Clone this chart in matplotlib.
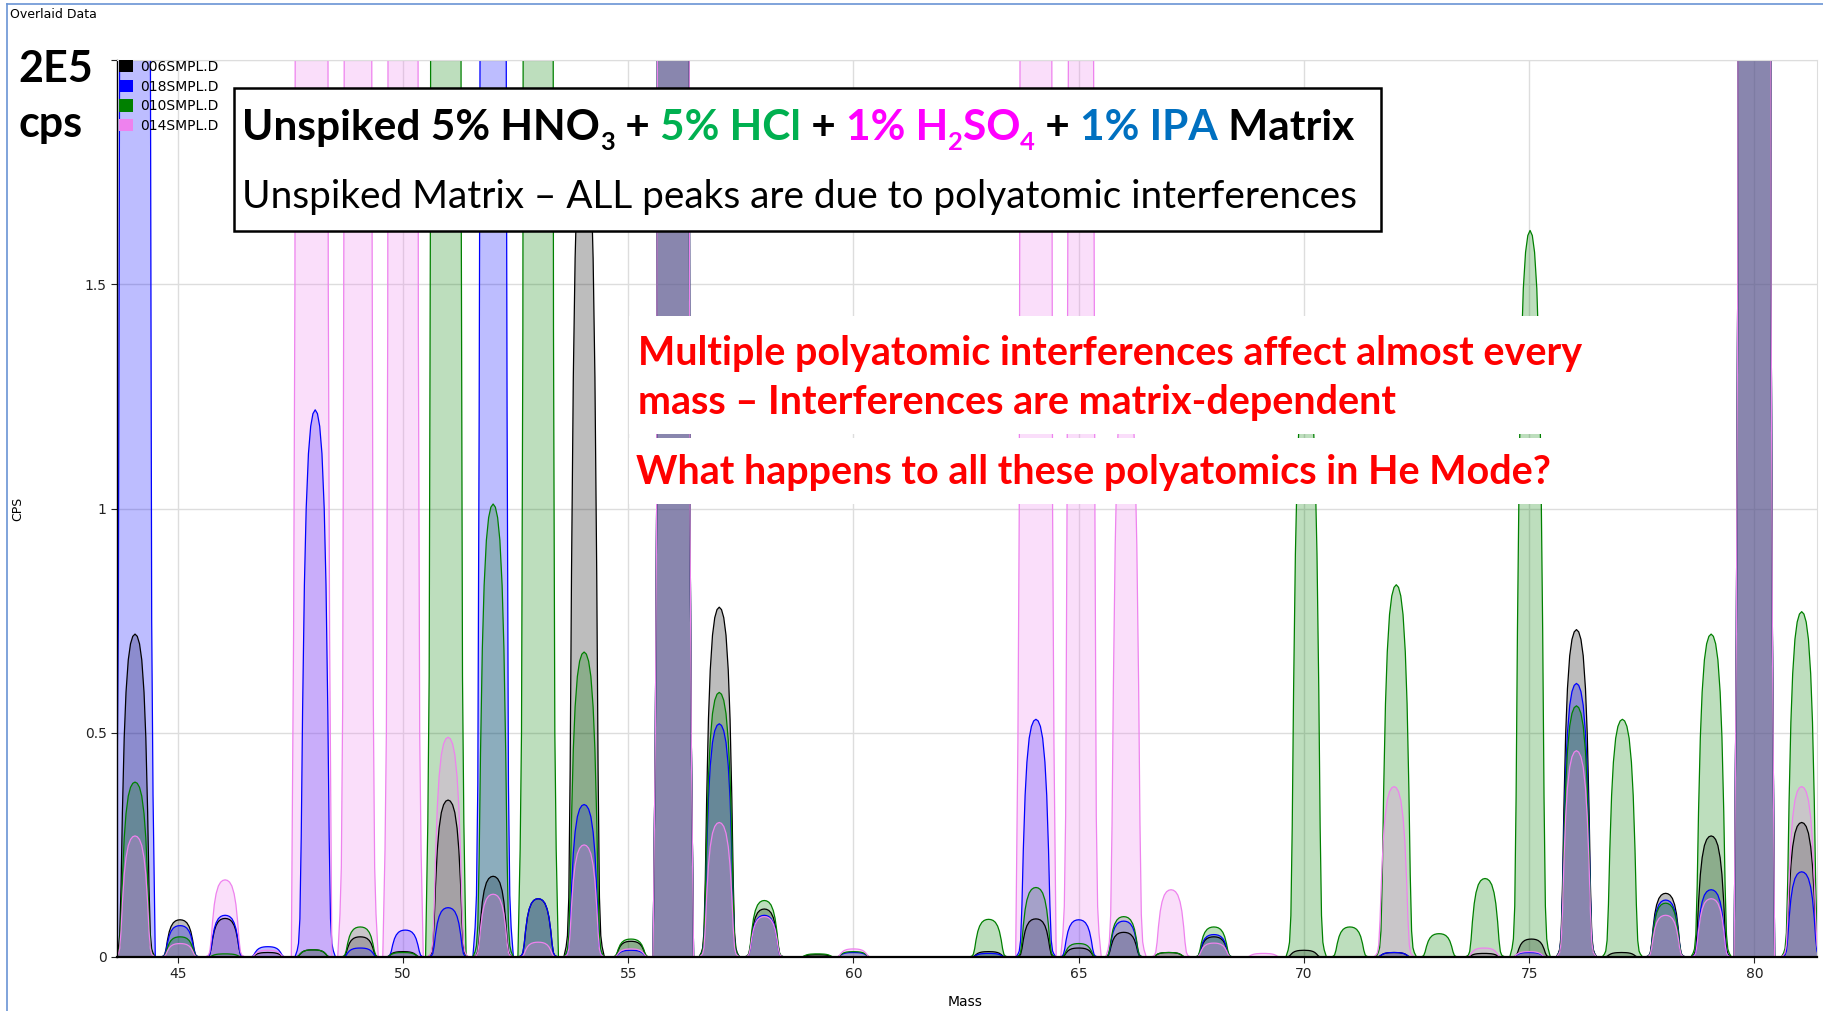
import numpy as np
import matplotlib
matplotlib.use("Agg")
import matplotlib.pyplot as plt
from matplotlib.patches import Rectangle, Patch
from matplotlib.lines import Line2D
from matplotlib.font_manager import FontProperties

W, H, DPI = 1823, 1011, 100

# ----------------------------
# Data (cps in units of 1E5, mass in amu)
# ----------------------------
# typical scan peak shape: offset from peak centre (amu) -> fraction of apex
profile_off = np.array([-0.45, -0.40, -0.37, -0.34, -0.31, -0.28, -0.24, -0.20, -0.15, -0.10, -0.05, 0.0,
                        0.05, 0.10, 0.15, 0.20, 0.24, 0.28, 0.31, 0.34, 0.37, 0.40, 0.45])
profile_rel = np.array([0.0, 0.012, 0.025, 0.07, 0.22, 0.45, 0.68, 0.82, 0.92, 0.97, 0.993, 1.0,
                        0.993, 0.97, 0.92, 0.82, 0.68, 0.45, 0.22, 0.07, 0.025, 0.012, 0.0])

mass_min, mass_max = 43.65, 81.39

# 006SMPL.D
blk_mass = [44.05, 45.05, 46.05, 47.0, 48.0, 49.05, 50.0, 51.0, 52.0, 53.0, 54.02, 55.06, 56.0, 57.02,
            58.02, 59.2, 63.0, 64.05, 65.0, 66.0, 67.0, 68.0, 70.0, 72.0, 74.0, 75.05, 76.05, 77.05,
            78.03, 79.04, 80.0, 81.05]
blk_cps = [0.72, 0.083, 0.086, 0.01, 0.016, 0.045, 0.012, 0.35, 0.18, 0.13, 1.9, 0.035, 40, 0.78,
           0.107, 0.005, 0.012, 0.085, 0.02, 0.055, 0.01, 0.045, 0.015, 0.01, 0.008, 0.04, 0.73, 0.01,
           0.142, 0.27, 60, 0.30]

# 018SMPL.D
blu_mass = [44.05, 45.05, 46.05, 47.0, 48.05, 49.05, 50.05, 51.0, 52.0, 53.0, 54.02, 55.06, 56.0, 57.02,
            58.02, 60.0, 63.0, 64.05, 65.0, 66.0, 68.0, 72.0, 75.0, 76.05, 78.03, 79.04, 80.0, 81.05]
blu_cps = [30, 0.07, 0.093, 0.023, 1.22, 0.02, 0.06, 0.11, 5.5, 0.13, 0.34, 0.015, 40, 0.52,
           0.093, 0.01, 0.008, 0.53, 0.083, 0.08, 0.05, 0.01, 0.01, 0.61, 0.127, 0.15, 60, 0.19]

# 010SMPL.D
grn_mass = [44.05, 45.05, 46.05, 48.0, 49.05, 50.0, 50.95, 52.0, 53.0, 54.02, 55.06, 56.0, 57.02, 58.02,
            59.2, 60.0, 63.0, 64.05, 65.0, 66.0, 67.0, 68.0, 70.05, 71.02, 72.05, 73.0, 74.02, 75.02,
            76.05, 77.07, 78.03, 79.04, 80.0, 81.05]
grn_cps = [0.39, 0.045, 0.007, 0.016, 0.067, 0.01, 25, 1.01, 20, 0.68, 0.04, 40, 0.59, 0.126,
           0.007, 0.012, 0.084, 0.155, 0.03, 0.09, 0.01, 0.067, 1.32, 0.067, 0.83, 0.052, 0.175, 1.62,
           0.56, 0.53, 0.12, 0.72, 60, 0.77]

# 014SMPL.D
pnk_mass = [44.05, 45.05, 46.05, 47.0, 47.97, 49.0, 50.0, 51.0, 52.0, 53.0, 54.02, 55.06, 56.0, 57.02,
            58.02, 60.0, 64.05, 65.05, 66.05, 67.05, 68.0, 69.1, 72.0, 74.0, 75.0, 76.05, 78.03, 79.04,
            80.0, 81.05]
pnk_cps = [0.27, 0.03, 0.172, 0.015, 60, 8, 20, 0.49, 0.14, 0.033, 0.25, 0.018, 40, 0.30,
           0.09, 0.018, 40, 4.5, 1.35, 0.15, 0.031, 0.008, 0.38, 0.02, 0.012, 0.46, 0.093, 0.13,
           60, 0.38]

series_names = ["006SMPL.D", "018SMPL.D", "010SMPL.D", "014SMPL.D"]
series_colors = ["#000000", "#0000FF", "#008000", "#EE82EE"]
series_data = [(blk_mass, blk_cps), (blu_mass, blu_cps), (grn_mass, grn_cps), (pnk_mass, pnk_cps)]

y_ticks = [0, 0.5, 1, 1.5, 2]
y_tick_labels = ["0", "0.5", "1", "1.5", ""]
x_ticks = [45, 50, 55, 60, 65, 70, 75, 80]


def trace(mass, cps):
    """Join the peaks of one acquisition into a single spectrum trace."""
    xs, ys = [mass_min], [0.0]
    for m, h in sorted(zip(mass, cps)):
        xs.extend(m + profile_off)
        ys.extend(h * profile_rel)
    xs.append(mass_max)
    ys.append(0.0)
    return np.array(xs), np.array(ys)


def px(x, y):
    # figure pixel (from top-left) -> figure fraction
    return x / W, 1 - y / H


fig = plt.figure(figsize=(W / DPI, H / DPI), dpi=DPI)
ax = fig.add_axes([117 / W, (H - 957) / H, (1817 - 117) / W, (957 - 60) / H])

for (m, c), col in zip(series_data, series_colors):
    xs, ys = trace(m, c)
    ax.fill_between(xs, 0, ys, color=col, alpha=0.26, linewidth=0)
    ax.plot(xs, ys, color=col, lw=0.9)

ax.set_xlim(mass_min, mass_max)
ax.set_ylim(0, 2)
ax.set_xticks(x_ticks)
ax.set_yticks(y_ticks)
ax.set_yticklabels(y_tick_labels)
ax.grid(color="#DDDDDD", lw=1)
ax.set_axisbelow(True)

tick_font = ["Liberation Sans Narrow", "DejaVu Sans"]
ax.tick_params(direction="out", length=4, width=0.8, labelsize=10, colors="#222222")
for lab in ax.get_xticklabels() + ax.get_yticklabels():
    lab.set_family(tick_font)
for side in ("top", "right"):
    ax.spines[side].set_color("#DDDDDD")
ax.spines["bottom"].set_linewidth(1.6)
ax.spines["left"].set_linewidth(1.0)

ax.set_xlabel("Mass", family=tick_font, fontsize=10)
ax.xaxis.set_label_coords((965 - 117) / 1700, -(995 - 957) / 897)
ax.set_ylabel("CPS", family=tick_font, fontsize=9)
ax.yaxis.set_label_coords(-(117 - 24) / 1700, 0.5)

handles = [Patch(facecolor=c, edgecolor="none") for c in series_colors]
ax.legend(handles, series_names, loc="upper left", bbox_to_anchor=px(119, 60),
          bbox_transform=fig.transFigure, frameon=False, borderaxespad=0, borderpad=0,
          handlelength=1.0, handleheight=1.0, handletextpad=0.5, labelspacing=0.4,
          prop={"family": tick_font, "size": 10})

# window frame and caption
fig.add_artist(Line2D([7 / W, 7 / W], [0, 1 - 4 / H], color="#6A94D4", lw=1.2))
fig.add_artist(Line2D([7 / W, 1], [1 - 4 / H, 1 - 4 / H], color="#6A94D4", lw=1.2))
fig.text(*px(10, 14), "Overlaid Data", family=tick_font, fontsize=9, va="center", ha="left")

fig.text(*px(18, 82), "2E5", family="Lato", fontweight="bold", fontsize=31, va="baseline")
fig.text(*px(19, 137), "cps", family="Lato", fontweight="bold", fontsize=31, va="baseline")

renderer = fig.canvas.get_renderer()


def advance(txt, size, weight):
    fp = FontProperties(family="Lato", weight=weight, size=size)
    w1, _, _ = renderer.get_text_width_height_descent(txt + "|", fp, ismath=False)
    w0, _, _ = renderer.get_text_width_height_descent("|", fp, ismath=False)
    return w1 - w0


def runs_width(runs, size, weight):
    return sum(advance(t, size * (0.6 if sub else 1.0), weight) for t, _, sub in runs)


def put_runs(runs, x0, base, target_w, weight, size=None):
    if size is None:
        size = 20 * target_w / runs_width(runs, 20, weight)
    x = x0
    for t, col, sub in runs:
        s = size * (0.6 if sub else 1.0)
        y = base + (0.24 * size * DPI / 72 if sub else 0)
        fig.text(*px(x, y), t, family="Lato", fontweight=weight, fontsize=s, color=col,
                 va="baseline", ha="left", zorder=6)
        x += advance(t, s, weight)
    return size


# header box
fig.add_artist(Rectangle(px(234, 231), (1381 - 234) / W, (231 - 88) / H, transform=fig.transFigure,
                         facecolor="white", edgecolor="black", lw=1.8, zorder=5))
K, G, M, B = "#000000", "#00B050", "#FF00FF", "#0070C0"
title_runs = [("Unspiked 5% HNO", K, False), ("3", K, True), (" + ", K, False),
              ("5% HCl", G, False), (" + ", K, False), ("1% H", M, False), ("2", M, True),
              ("SO", M, False), ("4", M, True), (" + ", K, False), ("1% IPA", B, False),
              (" Matrix", K, False)]
put_runs(title_runs, 242, 140, 1114, "bold")
put_runs([("Unspiked Matrix \u2013 ALL peaks are due to polyatomic interferences", K, False)],
         242, 208, 1118, "normal")

# callout boxes
fig.add_artist(Rectangle(px(629, 434), (1600 - 629) / W, (434 - 316) / H, transform=fig.transFigure,
                         facecolor="white", edgecolor="none", zorder=5))
fig.add_artist(Rectangle(px(629, 504), (1600 - 629) / W, (504 - 438) / H, transform=fig.transFigure,
                         facecolor="white", edgecolor="none", zorder=5))
R = "#FF0000"
red_size = put_runs([("Multiple polyatomic interferences affect almost every", R, False)],
                    638, 365, 945, "bold")
put_runs([("mass \u2013 Interferences are matrix-dependent", R, False)], 638, 414, None, "bold",
         size=red_size)
put_runs([("What happens to all these polyatomics in He Mode?", R, False)], 636, 484, None, "bold",
         size=red_size)

fig.savefig("out.png", dpi=DPI)
